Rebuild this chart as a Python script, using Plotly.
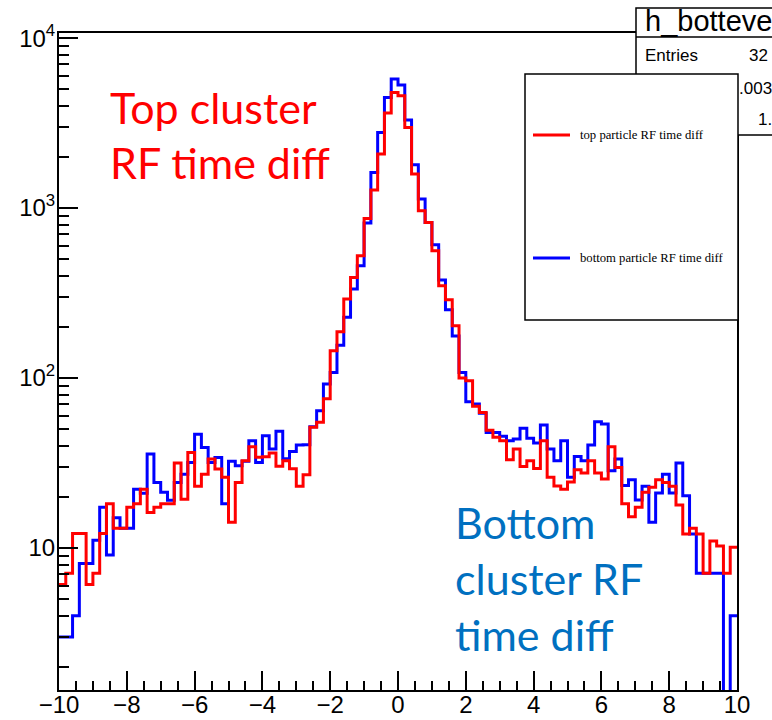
import numpy as np
import plotly.graph_objects as go

# ---------------- data ----------------
x_min, x_max, n_bins = -10.0, 10.0, 100

top_counts = [
    6.1, 7.1, 12.2, 12.2, 6.1, 7.1, 12.2, 18.2, 13.1, 13.1,
    17.4, 18.2, 22.2, 16.2, 17.4, 18.2, 18.2, 31.6, 19.4, 36.5,
    23.1, 27.2, 33.4, 29.2, 26.1, 14.2, 24.3, 32.6, 39.5, 34.2,
    34.4, 36.3, 30.3, 32.6, 29.3, 23.1, 27.0, 51.3, 54.9, 75.5,
    145, 187, 292, 391, 524, 869, 1276, 2080, 3622, 4794,
    4580, 2984, 1585, 964, 824, 561, 349, 289, 203, 100,
    96.4, 68.2, 62.8, 49.4, 44.8, 42.8, 33.1, 38.2, 30.2, 32.6,
    29.4, 42.8, 26.1, 23.2, 22.2, 24.5, 28.9, 27.6, 32.6, 27.6,
    25.5, 39.4, 29.8, 18.2, 15.3, 17.4, 21.3, 22.8, 25.2, 24.3,
    23.1, 17.9, 12.1, 13.1, 12.1, 7.1, 11.0, 10.3, 7.1, 10.1,
]

bottom_counts = [
    3.0, 3.0, 4.0, 8.1, 8.1, 11.1, 17.4, 9.1, 15.1, 13.1,
    13.1, 22.2, 21.0, 35.7, 24.3, 21.3, 19.1, 24.3, 27.2, 31.9,
    46.8, 39.1, 31.9, 34.1, 18.2, 32.4, 30.5, 32.4, 42.8, 31.9,
    45.8, 38.2, 48.6, 33.5, 37.0, 40.4, 40.5, 51.7, 64.2, 92.2,
    108, 156, 228, 334, 458, 816, 1622, 2787, 4479, 5742,
    5293, 3294, 1798, 1130, 824, 609, 377, 252, 177, 108,
    72.6, 70.3, 62.0, 47.9, 47.9, 45.4, 42.8, 43.8, 50.6, 44.2,
    41.5, 52.9, 38.2, 32.6, 42.8, 26.1, 34.6, 32.6, 40.4, 55.3,
    53.6, 28.5, 33.4, 23.3, 25.2, 19.2, 23.1, 14.2, 21.1, 27.2,
    21.1, 31.6, 20.3, 12.1, 7.1, 7.1, 7.1, 7.1, 0.0, 4.0,
]

top_label = "top particle RF time diff"
bottom_label = "bottom particle RF time diff"
y_tickvals = [10, 100, 1000, 10000]
y_ticktext = ["10", "10<sup>2</sup>", "10<sup>3</sup>", "10<sup>4</sup>"]

# ---------------- figure ----------------
edges = np.linspace(x_min, x_max, n_bins + 1)


def step_xy(vals):
    v = np.asarray(vals, dtype=float)
    v = np.where(v > 0, v, 1e-3)  # empty bins fall to the bottom of the log frame
    return edges, np.append(v, v[-1])


W, H = 772, 720
L, R, T, B = 59, 737, 33, 690


def px(x):
    return (x - L) / (R - L)


def py(y):
    return (B - y) / (B - T)


fig = go.Figure()
bx, by = step_xy(bottom_counts)
fig.add_trace(go.Scatter(x=bx, y=by, mode="lines", line=dict(color="#0000FF", width=3, shape="hv"),
                         name=bottom_label, showlegend=False, hoverinfo="skip"))
tx, ty = step_xy(top_counts)
fig.add_trace(go.Scatter(x=tx, y=ty, mode="lines", line=dict(color="#FF0000", width=3, shape="hv"),
                         name=top_label, showlegend=False, hoverinfo="skip"))

axfont = dict(family="Liberation Sans, Arial, sans-serif", size=24, color="black")
minor_y = [d * 10 ** e for e in range(0, 5) for d in range(2, 10)]

fig.update_layout(
    width=W, height=H,
    margin=dict(l=L, r=W - R, t=T, b=H - B, pad=0),
    paper_bgcolor="white", plot_bgcolor="white",
    showlegend=False,
    xaxis=dict(range=[x_min, x_max], tick0=-10, dtick=2, ticks="inside", ticklen=19,
               tickwidth=1.5, tickcolor="black", showline=True, linecolor="black",
               linewidth=2, mirror=True, showgrid=False, zeroline=False, tickfont=axfont,
               automargin=False, ticklabelstandoff=-8,
               minor=dict(ticks="inside", dtick=0.5, ticklen=9, tickwidth=1.5,
                          tickcolor="black", showgrid=False)),
    yaxis=dict(type="log", range=[0.165, 4.03], tickvals=y_tickvals, ticktext=y_ticktext,
               ticks="inside", ticklen=19, tickwidth=1.5, tickcolor="black",
               showline=True, linecolor="black", linewidth=2, mirror=True,
               showgrid=False, zeroline=False, tickfont=axfont, automargin=False,
               ticklabelstandoff=-3,
               minor=dict(ticks="inside", tickvals=minor_y, ticklen=10, tickwidth=1.5,
                          tickcolor="black", showgrid=False)),
)

shapes = []
# stats box (cut by the canvas edge)
shapes.append(dict(type="rect", xref="paper", yref="paper", x0=px(636), x1=px(790),
                   y0=py(135), y1=py(8), line=dict(color="black", width=1.5), fillcolor="white"))
shapes.append(dict(type="line", xref="paper", yref="paper", x0=px(636), x1=px(790),
                   y0=py(37), y1=py(37), line=dict(color="black", width=1.5)))
# legend box
shapes.append(dict(type="rect", xref="paper", yref="paper", x0=px(525), x1=px(738),
                   y0=py(320), y1=py(74), line=dict(color="black", width=1.5), fillcolor="white"))
shapes.append(dict(type="line", xref="paper", yref="paper", x0=px(533), x1=px(570),
                   y0=py(135), y1=py(135), line=dict(color="#FF0000", width=3)))
shapes.append(dict(type="line", xref="paper", yref="paper", x0=px(533), x1=px(570),
                   y0=py(258), y1=py(258), line=dict(color="#0000FF", width=3)))
fig.update_layout(shapes=shapes)

serif = dict(family="Liberation Serif, Times New Roman, serif", size=12.7, color="black")
sans = dict(family="Liberation Sans, Arial, sans-serif", size=17, color="black")
anns = [
    dict(x=px(578), y=py(135), text=top_label, font=serif, xanchor="left", yanchor="middle"),
    dict(x=px(578), y=py(258), text=bottom_label, font=serif, xanchor="left", yanchor="middle"),
    dict(x=px(643), y=py(21), text="h_botteve", font=dict(family="Liberation Sans, Arial, sans-serif", size=29, color="black"),
         xanchor="left", yanchor="middle"),
    dict(x=px(643), y=py(55), text="Entries", font=sans, xanchor="left", yanchor="middle"),
    dict(x=px(747), y=py(55), text="32", font=sans, xanchor="left", yanchor="middle"),
    dict(x=px(737), y=py(88), text=".003", font=sans, xanchor="left", yanchor="middle"),
    dict(x=px(756), y=py(119), text="1.", font=sans, xanchor="left", yanchor="middle"),
]
red_font = dict(family="Lato, Open Sans, sans-serif", size=43, color="#FF0000")
blue_font = dict(family="Lato, Open Sans, sans-serif", size=43, color="#0070C0")
for txt, yy in [("Top cluster", 107), ("RF time diff", 162)]:
    anns.append(dict(x=px(108), y=py(yy), text=txt, font=red_font, xanchor="left", yanchor="middle"))
for txt, yy in [("Bottom", 522), ("cluster RF", 578), ("time diff", 634)]:
    anns.append(dict(x=px(453), y=py(yy), text=txt, font=blue_font, xanchor="left", yanchor="middle"))
for a in anns:
    a.update(xref="paper", yref="paper", showarrow=False)
fig.update_layout(annotations=anns)

fig.write_html("out.html")
